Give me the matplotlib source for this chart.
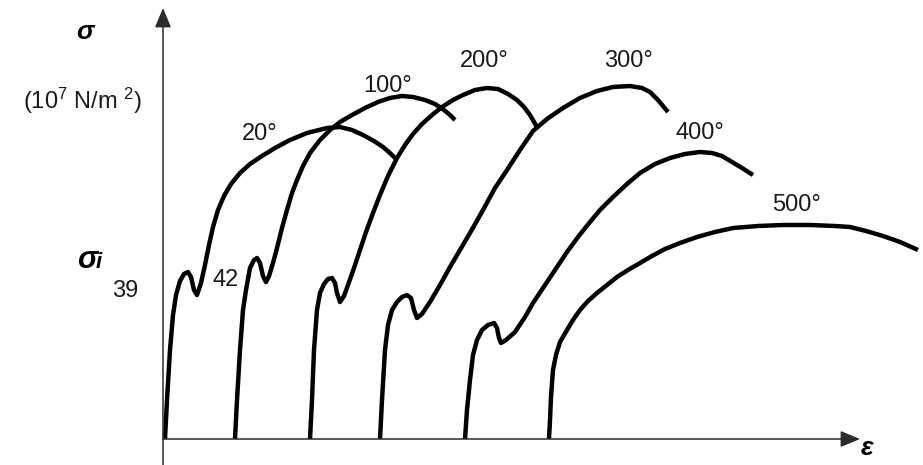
import matplotlib
matplotlib.use("Agg")
import matplotlib.pyplot as plt

plt.rcParams['font.family'] = ['Liberation Sans', 'DejaVu Sans']

# strain / stress values (arbitrary units)
eps_20 = [0.2, 0.4, 0.7, 1.0, 1.3, 1.7, 2.1, 2.5, 2.8, 3.1, 3.4, 3.8, 4.2, 4.6, 5.0, 5.5,
          6.1, 6.8, 7.7, 8.7, 9.9, 11.2, 12.7, 14.4, 16.4, 17.7, 18.9, 20.0, 21.1, 22.0,
          22.7, 23.4]
sig_20 = [0.0, 3.9, 8.9, 12.4, 14.4, 15.8, 16.5, 16.7, 16.2, 14.9, 14.4, 15.6, 17.4, 19.4,
          21.2, 22.9, 24.3, 25.5, 26.6, 27.5, 28.3, 29.1, 29.9, 30.6, 31.1, 31.2, 30.9,
          30.4, 29.8, 29.2, 28.6, 27.9]

eps_100 = [7.2, 7.4, 7.7, 8.0, 8.3, 8.7, 9.1, 9.4, 9.7, 10.0, 10.3, 10.6, 11.0, 11.4, 11.9,
           12.4, 12.9, 13.4, 14.0, 14.7, 15.7, 16.7, 17.7, 18.9, 20.2, 21.5, 22.7, 23.9,
           25.0, 26.2, 27.2, 28.1, 28.7, 29.2]
sig_100 = [0.0, 3.9, 8.9, 12.9, 14.9, 17.1, 17.9, 18.1, 17.6, 16.3, 15.7, 16.3, 17.6, 19.1,
           21.1, 22.9, 24.6, 25.9, 27.3, 28.6, 29.9, 30.9, 31.7, 32.4, 33.1, 33.7, 34.1,
           34.3, 34.2, 33.9, 33.5, 32.9, 32.4, 31.9]

eps_200 = [14.7, 14.9, 15.1, 15.4, 15.7, 16.1, 16.5, 16.9, 17.2, 17.4, 17.7, 18.1, 18.5,
           19.1, 19.7, 20.3, 21.0, 21.7, 22.5, 23.4, 24.2, 25.0, 25.9, 26.9, 27.9, 29.0,
           30.0, 31.2, 32.4, 33.5, 34.5, 35.4, 36.1, 36.7, 37.4]
sig_200 = [0.0, 3.9, 8.9, 12.9, 14.6, 15.5, 16.0, 16.1, 15.6, 14.6, 13.7, 14.3, 15.4, 17.1,
           18.9, 20.7, 22.6, 24.4, 26.3, 28.1, 29.4, 30.5, 31.5, 32.4, 33.2, 33.9, 34.4,
           34.9, 35.1, 35.0, 34.5, 33.9, 33.2, 32.4, 31.2]

eps_300 = [21.7, 21.9, 22.2, 22.5, 22.9, 23.4, 23.9, 24.4, 24.8, 25.1, 25.4, 25.9, 26.7,
           27.7, 28.7, 29.7, 30.7, 32.0, 33.2, 34.4, 35.7, 37.0, 38.4, 40.0, 41.7, 43.4,
           45.0, 46.7, 47.9, 48.7, 49.5, 50.0, 50.5]
sig_300 = [0.0, 3.9, 8.9, 11.4, 12.9, 13.7, 14.2, 14.4, 14.1, 12.9, 12.1, 12.5, 13.7, 15.4,
           17.2, 18.9, 20.6, 22.9, 25.1, 26.9, 28.9, 30.8, 32.0, 33.1, 34.1, 34.8, 35.2,
           35.3, 35.1, 34.7, 33.9, 33.3, 32.7]

eps_400 = [30.2, 30.4, 30.7, 31.0, 31.4, 31.9, 32.5, 33.1, 33.4, 33.6, 33.8, 34.3, 35.2,
           36.2, 37.0, 38.2, 39.4, 40.4, 41.5, 42.7, 43.7, 45.0, 46.4, 47.7, 49.2, 50.7,
           52.2, 53.7, 54.9, 55.9, 56.9, 57.9, 59.0]
sig_400 = [0.0, 2.9, 5.9, 8.4, 9.9, 10.9, 11.4, 11.6, 11.1, 10.1, 9.6, 9.9, 10.7, 12.2,
           13.6, 15.4, 17.2, 18.7, 20.2, 21.7, 22.9, 24.2, 25.5, 26.6, 27.5, 28.1, 28.5,
           28.7, 28.6, 28.3, 27.7, 27.1, 26.4]

eps_500 = [38.6, 38.7, 38.8, 39.0, 39.3, 39.7, 40.4, 41.0, 41.7, 42.5, 43.4, 44.4, 45.4,
           46.5, 47.7, 48.9, 50.2, 51.7, 53.4, 55.2, 57.0, 59.5, 62.0, 64.7, 67.2, 68.7,
           70.3, 72.0, 73.7, 75.5]
sig_500 = [0.0, 1.9, 4.2, 6.9, 8.4, 9.7, 10.9, 11.9, 12.9, 13.8, 14.6, 15.4, 16.2, 16.9,
           17.6, 18.3, 19.0, 19.6, 20.2, 20.7, 21.1, 21.3, 21.4, 21.4, 21.3, 21.2, 20.8,
           20.3, 19.7, 18.9]

curves = [(eps_20, sig_20), (eps_100, sig_100), (eps_200, sig_200),
          (eps_300, sig_300), (eps_400, sig_400), (eps_500, sig_500)]
temp_labels = ['20°', '100°', '200°', '300°', '400°', '500°']
label_pos = [(9.7, 30.5), (22.5, 35.3), (32.1, 37.8), (46.5, 37.8), (53.7, 30.6), (63.3, 23.4)]

fig = plt.figure(figsize=(9.23, 4.65), dpi=100)
ax = fig.add_axes([0, 0, 1, 1])
ax.set_xlim(-16.3, 76.0)
ax.set_ylim(-2.6, 43.9)
ax.axis('off')

axis_col = '#2b2b2b'
arrow_kw = dict(arrowstyle='-|>,head_length=1.2,head_width=0.5', color=axis_col,
                lw=1.1, shrinkA=0, shrinkB=0, mutation_scale=10)
ax.annotate('', xy=(0, 43.1), xytext=(0, -2.6), arrowprops=arrow_kw)
ax.annotate('', xy=(69.7, 0), xytext=(0, 0), arrowprops=arrow_kw)

for (x, y) in curves:
    ax.plot(x, y, color='black', lw=3.2, solid_joinstyle='round', solid_capstyle='butt')

txt_col = '#1a1a1a'
for lab, (px, py) in zip(temp_labels, label_pos):
    ax.text(px, py, lab, fontsize=17, color=txt_col, ha='center', va='center')

ax.text(-7.8, 40.7, 'σ', fontsize=19, fontweight='bold', fontstyle='italic',
        ha='center', va='center', color='black')
ax.text(-8.0, 33.8, r'(10$\mathregular{^7}$ N/m $\mathregular{^2}$)', fontsize=17,
        color=txt_col, ha='center', va='center')
ax.text(-7.6, 17.9, 'σ', fontsize=22, fontweight='bold', fontstyle='italic',
        ha='center', va='center', color='black')
ax.text(-6.4, 17.6, 'i', fontsize=16, fontweight='bold', fontstyle='italic',
        ha='center', va='center', color='black')
ax.text(-3.8, 14.8, '39', fontsize=17, color=txt_col, ha='center', va='center')
ax.text(6.3, 15.9, '42', fontsize=17, color=txt_col, ha='center', va='center')
ax.text(70.4, -0.9, 'ε', fontsize=19, fontweight='bold', fontstyle='italic',
        ha='center', va='center', color='black')

fig.savefig('out.png', dpi=100)
